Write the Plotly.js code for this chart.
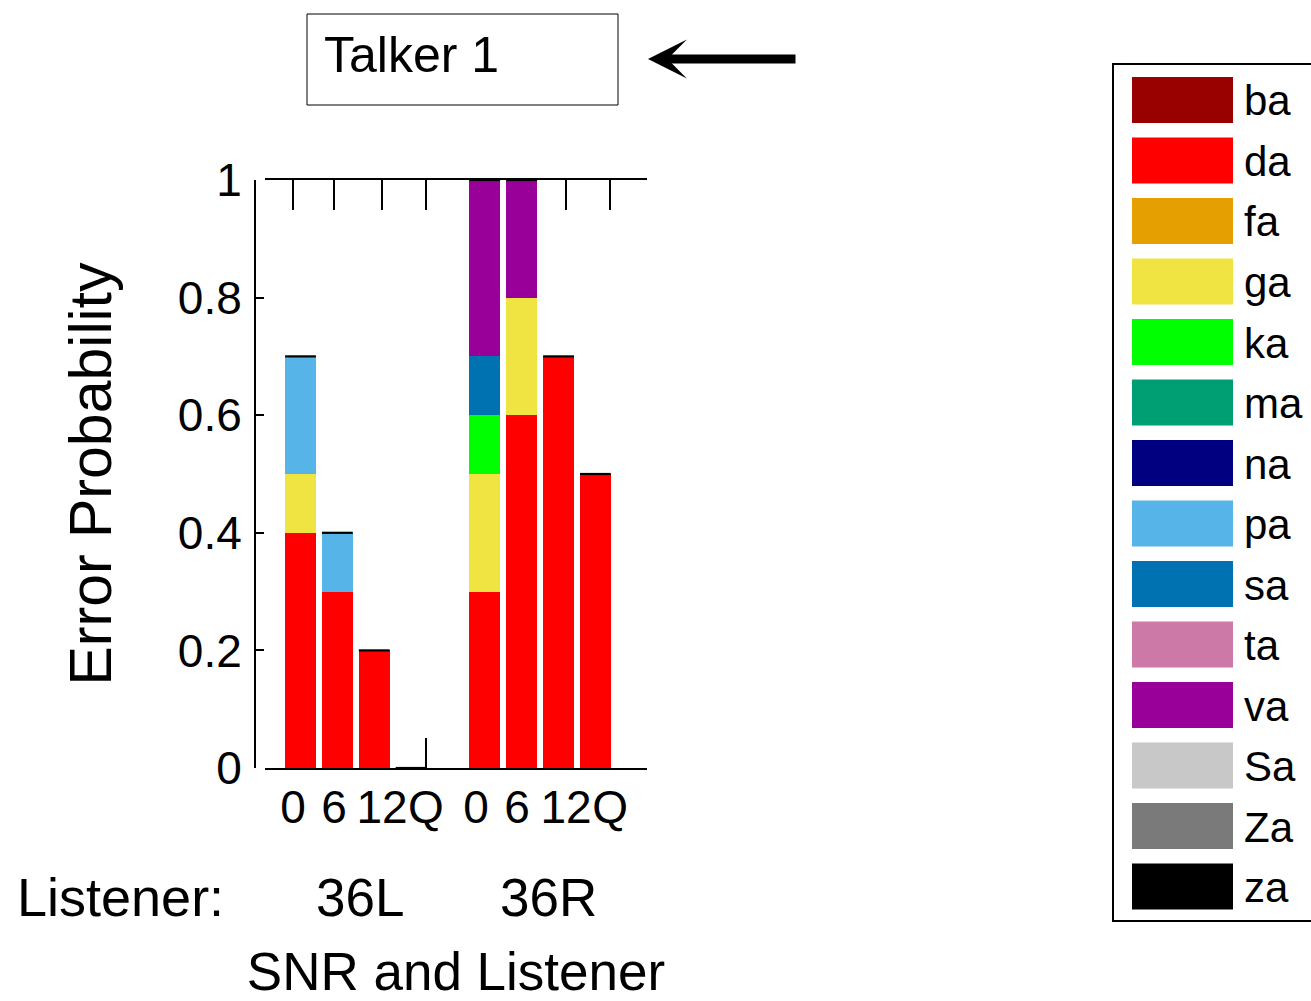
<!DOCTYPE html>
<html>
<head>
<meta charset="utf-8">
<script src="https://cdn.plot.ly/plotly-3.0.1.min.js"></script>
<style>html,body{margin:0;padding:0;background:#fff;}#chart{width:1311px;height:1001px;}</style>
</head>
<body>
<div id="chart"></div>
<script>
// ---------------- data ----------------
const listeners = ["36L", "36R"];
const snrLabels = ["0", "6", "12", "Q"];
const consonants = ["ba","da","fa","ga","ka","ma","na","pa","sa","ta","va","Sa","Za","za"];
const colors = ["#990000","#ff0000","#e69f00","#f0e442","#00ff00","#009e73","#000080",
                "#56b4e9","#0072b2","#cc79a7","#990099","#c8c8c8","#7a7a7a","#000000"];
// error probabilities: [36L-0, 36L-6, 36L-12, 36L-Q, 36R-0, 36R-6, 36R-12, 36R-Q]
const ba = [0,0,0,0, 0,0,0,0];
const da = [0.4,0.3,0.2,0, 0.3,0.6,0.7,0.5];
const fa = [0,0,0,0, 0,0,0,0];
const ga = [0.1,0,0,0, 0.2,0.2,0,0];
const ka = [0,0,0,0, 0.1,0,0,0];
const ma = [0,0,0,0, 0,0,0,0];
const na = [0,0,0,0, 0,0,0,0];
const pa = [0.2,0.1,0,0, 0,0,0,0];
const sa = [0,0,0,0, 0.1,0,0,0];
const ta = [0,0,0,0, 0,0,0,0];
const va = [0,0,0,0, 0.3,0.2,0,0];
const Sa = [0,0,0,0, 0,0,0,0];
const Za = [0,0,0,0, 0,0,0,0];
const za = [0,0,0,0, 0,0,0,0];
const seriesValues = [ba,da,fa,ga,ka,ma,na,pa,sa,ta,va,Sa,Za,za];
const yTickVals = [0,0.2,0.4,0.6,0.8,1];
const yTickText = ["0","0.2","0.4","0.6","0.8","1"];

// ---------------- layout helpers ----------------
const W = 1311, H = 1001;
const M = {l:255, r:664, t:180, b:233};
const PW = W - M.l - M.r, PH = H - M.t - M.b;
const px = p => (p - M.l) / PW;          // pixel x -> paper x
const py = p => (H - M.b - p) / PH;      // pixel y -> paper y
const FONT = "Liberation Sans, Arial, Helvetica, sans-serif";

// bar positions: listener g, snr i -> g*5 + i + 1
const xPos = [];
listeners.forEach((l, g) => snrLabels.forEach((s, i) => xPos.push(g * 5 + i + 1)));
const tickPos = [0.797, 1.909, 3.211, 4.405, 5.761, 6.874, 8.203, 9.397];
const tickText = [];
listeners.forEach(() => snrLabels.forEach(s => tickText.push(s)));

const traces = consonants.map((c, k) => ({
  type: "bar", name: c, x: xPos, y: seriesValues[k],
  width: 0.84, marker: {color: colors[k], line: {width: 0}},
  showlegend: false, hoverinfo: "name+y"
}));
// black top edge of each stack (the zero-height "za" bar edges)
const totals = xPos.map((_, j) => seriesValues.reduce((s, arr) => s + arr[j], 0));
traces.push({
  type: "scatter", mode: "markers", x: xPos, y: totals, showlegend: false, hoverinfo: "skip",
  marker: {symbol: "line-ew", size: 22, color: "#000", line: {width: 2.2, color: "#000"}},
  cliponaxis: false
});

const shapes = [];
const annotations = [];
// legend (built from consonants / colors)
shapes.push({type: "rect", xref: "paper", yref: "paper", x0: px(1113), x1: px(1320), y0: py(64), y1: py(921),
             line: {color: "#000", width: 2}, fillcolor: "rgba(0,0,0,0)"});
consonants.forEach((c, k) => {
  const cy = 100 + k * 60.5;
  shapes.push({type: "rect", xref: "paper", yref: "paper", x0: px(1132), x1: px(1233),
               y0: py(cy - 23), y1: py(cy + 23), line: {width: 0}, fillcolor: colors[k]});
  annotations.push({xref: "paper", yref: "paper", x: px(1242), y: py(cy + 1), xanchor: "left", yanchor: "middle",
                    text: c, showarrow: false, font: {family: FONT, size: 42, color: "#000"}});
});
// Talker box
shapes.push({type: "rect", xref: "paper", yref: "paper", x0: px(307), x1: px(618), y0: py(14), y1: py(105),
             line: {color: "#000", width: 1}, fillcolor: "rgba(0,0,0,0)"});
annotations.push({xref: "paper", yref: "paper", x: px(322), y: py(55), xanchor: "left", yanchor: "middle",
                  text: "Talker 1", showarrow: false, font: {family: FONT, size: 50, color: "#000"}});
// arrow
annotations.push({xref: "paper", yref: "paper", x: px(648), y: py(59), text: "", showarrow: true,
                  axref: "pixel", ayref: "pixel", ax: 149, ay: 0, arrowhead: 3, arrowsize: 0.72,
                  arrowwidth: 9, arrowcolor: "#000", standoff: 0, startstandoff: 0});
// listener labels
annotations.push({xref: "paper", yref: "paper", x: px(15), y: py(897), xanchor: "left", yanchor: "middle",
                  text: "Listener:", showarrow: false, font: {family: FONT, size: 54, color: "#000"}});
const listenerCenters = [360, 548];
listeners.forEach((l, g) => annotations.push({xref: "paper", yref: "paper", x: px(listenerCenters[g]), y: py(897),
  xanchor: "center", yanchor: "middle", text: l, showarrow: false, font: {family: FONT, size: 53, color: "#000"}}));

const layout = {
  width: W, height: H, margin: M, paper_bgcolor: "#fff", plot_bgcolor: "rgba(0,0,0,0)",
  barmode: "stack", showlegend: false, font: {family: FONT, color: "#000"},
  xaxis: {
    domain: [10 / PW, 1], range: [0.037, 10.4], showgrid: false, zeroline: false,
    showline: true, linewidth: 2, linecolor: "#000", mirror: "ticks",
    ticks: "inside", ticklen: 30, tickwidth: 2, tickcolor: "#000", tickangle: 0,
    tickvals: tickPos, ticktext: tickText, tickfont: {family: FONT, size: 46, color: "#000"},
    layer: "below traces", ticklabelstandoff: -2,
    title: {text: "SNR and Listener", font: {family: FONT, size: 53, color: "#000"}, standoff: 138}
  },
  yaxis: {
    anchor: "free", position: 0, range: [0, 1], showgrid: false, zeroline: false,
    showline: true, linewidth: 2, linecolor: "#000",
    ticks: "inside", ticklen: 8, tickwidth: 2, tickcolor: "#000",
    tickvals: yTickVals, ticktext: yTickText, tickfont: {family: FONT, size: 46, color: "#000"},
    ticklabelstandoff: 3,
    title: {text: "Error Probability", font: {family: FONT, size: 59, color: "#000"}, standoff: 46}
  },
  shapes: shapes, annotations: annotations
};

Plotly.newPlot("chart", traces, layout, {staticPlot: true, displayModeBar: false});
</script>
</body>
</html>
